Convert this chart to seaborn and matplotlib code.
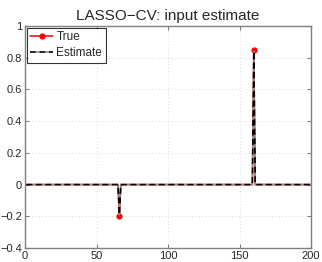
import numpy as np
import pandas as pd
import matplotlib
matplotlib.use("Agg")
import matplotlib.pyplot as plt
import seaborn as sns

n = 200
spike_idx = [66, 160]
true_vals = [-0.20, 0.85]
est_vals = [-0.19, 0.84]

idx = np.arange(1, n + 1)
x_true = np.zeros(n)
x_est = np.zeros(n)
for i, t, e in zip(spike_idx, true_vals, est_vals):
    x_true[i - 1] = t
    x_est[i - 1] = e

df = pd.DataFrame({"idx": idx, "true": x_true, "est": x_est})

sns.set_style("white")
plt.rcParams['font.family'] = ['Liberation Sans', 'DejaVu Sans']

fig = plt.figure(figsize=(3.22, 2.62), dpi=100)
ax = fig.add_axes([25/322, 14/262, 286/322, 222/262])

nz = [int(i) - 1 for i in spike_idx]
sns.lineplot(data=df, x="idx", y="true", ax=ax, color="red", lw=1.1,
             marker="o", markersize=4.5, markeredgewidth=0, markevery=nz,
             label="True")
sns.lineplot(data=df, x="idx", y="est", ax=ax, color="black", lw=1.2,
             dashes=False, linestyle=(0, (3.5, 2.2)), gapcolor="0.55",
             label="Estimate")

ax.set_xlim(0, 200)
ax.set_ylim(-0.4, 1.0)
ax.set_xticks([0, 50, 100, 150, 200])
ax.set_yticks([-0.4, -0.2, 0, 0.2, 0.4, 0.6, 0.8, 1.0])
ax.set_yticklabels(["\u22120.4", "\u22120.2", "0", "0.2", "0.4", "0.6", "0.8", "1"])
ax.set_xlabel("")
ax.set_ylabel("")
ax.grid(True, linestyle=(0, (1, 3)), color="0.8", lw=0.6)
for s in ax.spines.values():
    s.set_color("0.5")
    s.set_linewidth(1)
ax.tick_params(direction="in", length=3, color="0.5", labelsize=8, pad=2,
               left=True, bottom=True, top=True, right=True)
ax.set_title("LASSO\u2212CV: input estimate", fontsize=11, pad=4)

leg = ax.legend(loc="upper left", fontsize=8.5, frameon=True, fancybox=False,
                borderpad=0.3, handlelength=1.9, handletextpad=0.3,
                labelspacing=0.35, borderaxespad=0.15)
leg.get_frame().set_edgecolor("black")
leg.get_frame().set_linewidth(0.8)

fig.savefig("out.png", dpi=100)
